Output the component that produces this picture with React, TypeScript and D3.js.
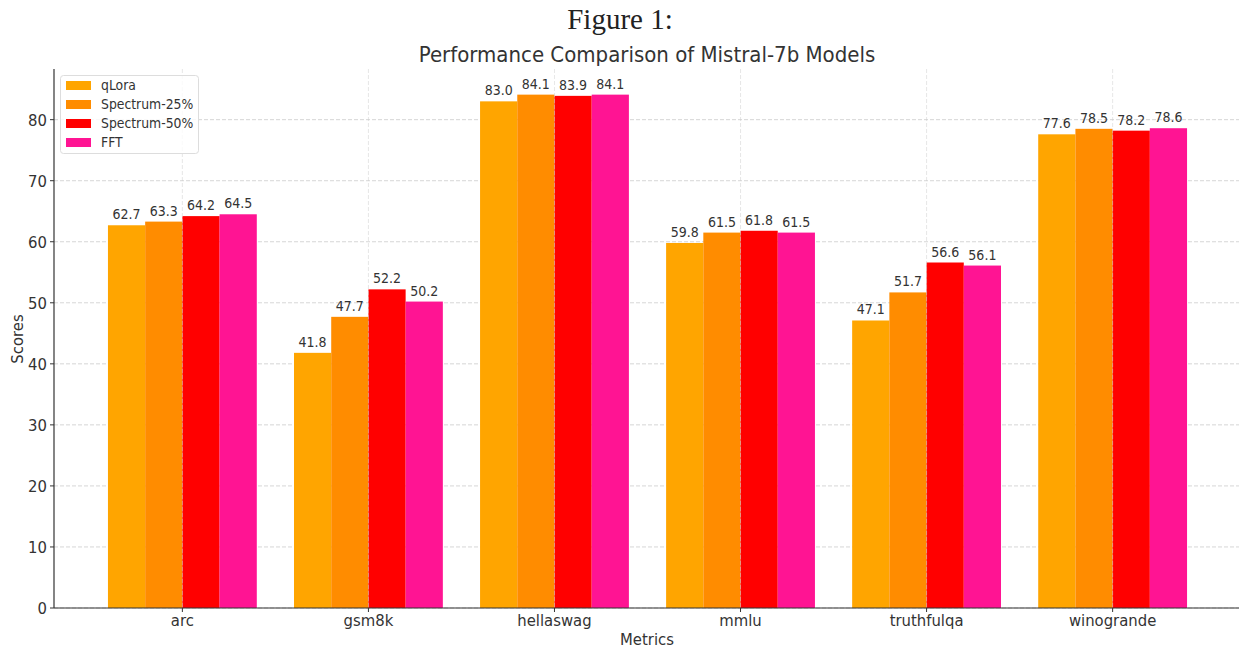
import React from "react";
import * as d3 from "d3";

const categories = ["arc", "gsm8k", "hellaswag", "mmlu", "truthfulqa", "winogrande"];
const seriesNames = ["qLora", "Spectrum-25%", "Spectrum-50%", "FFT"];
const seriesColors = ["#FFA500", "#FF8C00", "#FF0000", "#FF1493"];
const qLora = [62.7, 41.8, 83.0, 59.8, 47.1, 77.6];
const spectrum25 = [63.3, 47.7, 84.1, 61.5, 51.7, 78.5];
const spectrum50 = [64.2, 52.2, 83.9, 61.8, 56.6, 78.2];
const fft = [64.5, 50.2, 84.1, 61.5, 56.1, 78.6];
const seriesValues = [qLora, spectrum25, spectrum50, fft];
const yTicks = [0, 10, 20, 30, 40, 50, 60, 70, 80];

const W = 1239;
const H = 648;
const FONT = "'DejaVu Sans Condensed', 'DejaVu Sans', sans-serif";
const TXT = "#333333";

export default function App() {
  const left = 54;
  const top = 69;
  const bottom = 608;
  const barW = 0.2;
  const xs = d3.scaleLinear().domain([-0.69, 5.69]).range([left, 1241]);
  const ys = d3.scaleLinear().domain([0, 88.3]).range([bottom, top]);

  return (
    <svg width={W} height={H} style={{ position: "absolute", left: 0, top: 0, background: "#fff" }}>
      <text x={620} y={29} textAnchor="middle" fontFamily="'Liberation Serif', serif" fontSize={29} fill="#222">
        Figure 1:
      </text>
      <text x={647} y={62} textAnchor="middle" fontFamily={FONT} fontSize={22} fill={TXT}>
        Performance Comparison of Mistral-7b Models
      </text>
      {/* grid */}
      {yTicks.map((t) => (
        <line key={"gy" + t} x1={left} x2={1241} y1={ys(t)} y2={ys(t)} stroke="#cccccc" strokeDasharray="4,2" strokeWidth={0.8} />
      ))}
      {/* bars */}
      {seriesValues.map((vals, j) =>
        vals.map((v, i) => {
          const x0 = xs(i + (j - 2) * barW);
          const x1 = xs(i + (j - 1) * barW);
          return (
            <g key={`b${j}-${i}`}>
              <rect x={x0} y={ys(v)} width={x1 - x0} height={ys(0) - ys(v)} fill={seriesColors[j]} />
              <text x={(x0 + x1) / 2} y={ys(v) - 6} textAnchor="middle" fontFamily={FONT} fontSize={14} fill={TXT}>
                {v.toFixed(1)}
              </text>
            </g>
          );
        })
      )}
      {categories.map((c, i) => (
        <line key={"gx" + c} x1={xs(i)} x2={xs(i)} y1={top} y2={bottom} stroke="#cccccc" strokeOpacity={0.6} strokeDasharray="4,2" strokeWidth={0.8} />
      ))}
      {/* axes */}
      <line x1={left} x2={left} y1={top} y2={bottom} stroke="#333" strokeWidth={1.2} />
      <line x1={left} x2={1241} y1={bottom} y2={bottom} stroke="#333" strokeWidth={1.2} />
      {yTicks.map((t) => (
        <g key={"yt" + t}>
          <line x1={left - 4} x2={left} y1={ys(t)} y2={ys(t)} stroke="#333" />
          <text x={left - 7} y={ys(t) + 6} textAnchor="end" fontFamily={FONT} fontSize={16.5} fill={TXT}>
            {t}
          </text>
        </g>
      ))}
      {categories.map((c, i) => (
        <g key={"xt" + c}>
          <line x1={xs(i)} x2={xs(i)} y1={bottom} y2={bottom + 4} stroke="#333" />
          <text x={xs(i)} y={bottom + 18} textAnchor="middle" fontFamily={FONT} fontSize={16.5} fill={TXT}>
            {c}
          </text>
        </g>
      ))}
      <text x={647} y={645} textAnchor="middle" fontFamily={FONT} fontSize={16.5} fill={TXT}>
        Metrics
      </text>
      <text transform={`translate(23,339) rotate(-90)`} textAnchor="middle" fontFamily={FONT} fontSize={16.5} fill={TXT}>
        Scores
      </text>
      {/* legend */}
      <rect x={60.5} y={75.5} width={138} height={78} rx={3} fill="#fff" fillOpacity={0.8} stroke="#dddddd" />
      {seriesNames.map((n, j) => (
        <g key={"lg" + n}>
          <rect x={66} y={81 + j * 19} width={25} height={9} fill={seriesColors[j]} />
          <text x={101} y={90 + j * 19} fontFamily={FONT} fontSize={13.8} fill={TXT}>
            {n}
          </text>
        </g>
      ))}
    </svg>
  );
}
